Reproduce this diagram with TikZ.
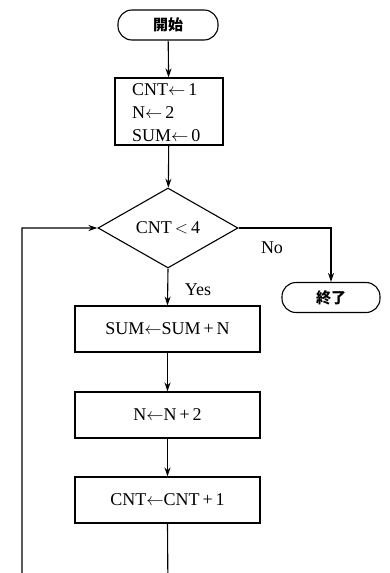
\documentclass[tikz,border=0pt]{standalone}
\usepackage{fontspec}
\setmainfont{Liberation Serif}
\newfontfamily\jfont{Noto Sans CJK JP}
\usetikzlibrary{shapes.geometric,arrows.meta}
\newcommand{\larr}{\ensuremath{\leftarrow}}
\tikzset{
  every node/.style={font=\fontsize{18}{21}\selectfont},
  term/.style={draw,line width=1.1pt,rounded corners=14pt,minimum height=30pt,inner sep=0pt,font=\jfont\bfseries\fontsize{15}{17}\selectfont},
  procbox/.style={draw,line width=1.1pt,minimum width=185pt,minimum height=46pt,inner sep=0pt},
  decide/.style={draw,line width=1.1pt,diamond,aspect=1.75,minimum width=140pt,minimum height=80pt,inner sep=0pt},
  flow/.style={line width=1.1pt,-{Stealth[length=9pt,width=6pt]}},
  lbl/.style={inner sep=0pt}
}
\begin{document}
\begin{tikzpicture}[x=1pt,y=-1pt]
\useasboundingbox (0,0) rectangle (389,573);
\clip (0,0) rectangle (389,573);
\node[term,minimum width=100pt] (start) at (168,25) {開始};
\node[draw,line width=1.1pt,minimum width=108pt,minimum height=67pt,inner sep=0pt] (init) at (169,111.5) {};
\node[lbl,anchor=west] (t1) at (132,90) {CNT\larr\,1};
\node[lbl,anchor=west] (t2) at (132,113) {N\larr\,2};
\node[lbl,anchor=west] (t3) at (132,136) {SUM\larr\,0};
\node[decide] (cond) at (168,228) {CNT\,$<$\,4};
\node[term,minimum width=98pt] (end) at (331,297.5) {終了};
\node[procbox] (b1) at (167.5,329) {SUM\larr SUM\,+\,N};
\node[procbox] (b2) at (167.5,415) {N\larr N\,+\,2};
\node[procbox] (b3) at (167.5,500) {CNT\larr CNT\,+\,1};
\node[lbl] (no) at (272,248) {No};
\node[lbl] (yes) at (198,290) {Yes};
\coordinate (loopbot) at (168,600);
\coordinate (loopleft) at (22,600);
\draw[flow] (start) -- (init);
\draw[flow] (init) -- (cond);
\draw[flow] (cond.south) -- (b1.north);
\draw[flow] (b1) -- (b2);
\draw[flow] (b2) -- (b3);
\draw[flow] (cond.east) -| (end.north);
\draw[flow] (b3.south) -- (loopbot) -- (loopleft) |- (cond.west);
\end{tikzpicture}
\end{document}
